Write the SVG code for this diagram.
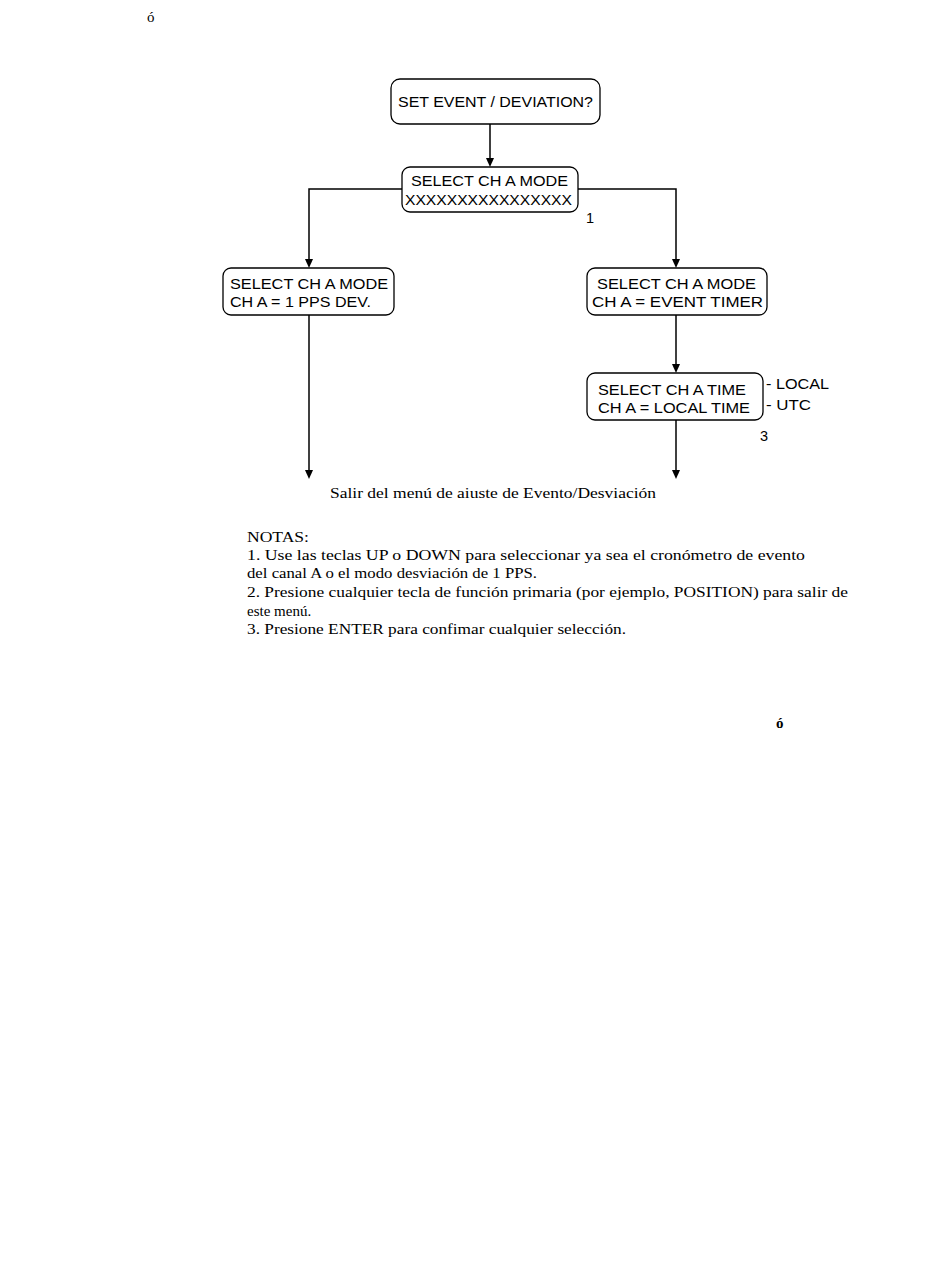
<svg xmlns="http://www.w3.org/2000/svg" width="950" height="1267" viewBox="0 0 950 1267">
<style>
.box{fill:#fff;stroke:#000;stroke-width:1.3}
.bt{font-family:"Liberation Sans",Arial,sans-serif;font-size:14.5px;fill:#000}
.ln{fill:none;stroke:#000;stroke-width:1.5}
.ah{fill:#000}
.sr{font-family:"Liberation Serif","Times New Roman",serif;font-size:15px;fill:#000}
</style>
<rect width="950" height="1267" fill="#fff"/>
<g id="connectors">
<path class="ln" d="M490,124 V160"/>
<path class="ln" d="M402,189 H309 V262"/>
<path class="ln" d="M578,189 H676 V262"/>
<path class="ln" d="M309,315 V472"/>
<path class="ln" d="M676,315 V366"/>
<path class="ln" d="M676,420 V472"/>
<path class="ah" d="M486,158 L494,158 L490,167 Z"/>
<path class="ah" d="M305,259 L313,259 L309,268 Z"/>
<path class="ah" d="M672,259 L680,259 L676,268 Z"/>
<path class="ah" d="M672,364 L680,364 L676,373 Z"/>
<path class="ah" d="M305,470 L313,470 L309,479 Z"/>
<path class="ah" d="M672,470 L680,470 L676,479 Z"/>
</g>
<g id="n_top">
<rect class="box" x="391" y="79" width="209" height="45" rx="9"/>
<text class="bt" x="398" y="107" textLength="195" lengthAdjust="spacingAndGlyphs">SET EVENT / DEVIATION?</text>
</g>
<g id="n_mode">
<rect class="box" x="402" y="167" width="176" height="45" rx="8"/>
<text class="bt" x="411" y="186" textLength="157" lengthAdjust="spacingAndGlyphs">SELECT CH A MODE</text>
<text class="bt" x="405" y="205" textLength="167" lengthAdjust="spacingAndGlyphs">XXXXXXXXXXXXXXXX</text>
</g>
<g id="n_pps">
<rect class="box" x="223" y="268" width="171" height="47" rx="8"/>
<text class="bt" x="230" y="289" textLength="158" lengthAdjust="spacingAndGlyphs">SELECT CH A MODE</text>
<text class="bt" x="230" y="307" textLength="141" lengthAdjust="spacingAndGlyphs">CH A = 1 PPS DEV.</text>
</g>
<g id="n_event">
<rect class="box" x="587" y="268" width="180" height="47" rx="8"/>
<text class="bt" x="597" y="289" textLength="159" lengthAdjust="spacingAndGlyphs">SELECT CH A MODE</text>
<text class="bt" x="592" y="307" textLength="171" lengthAdjust="spacingAndGlyphs">CH A = EVENT TIMER</text>
</g>
<g id="n_time">
<rect class="box" x="587" y="373" width="176" height="47" rx="8"/>
<text class="bt" x="598" y="395" textLength="148" lengthAdjust="spacingAndGlyphs">SELECT CH A TIME</text>
<text class="bt" x="598" y="413" textLength="152" lengthAdjust="spacingAndGlyphs">CH A = LOCAL TIME</text>
</g>
<g id="labels">
<text class="bt" x="586" y="223" font-size="13.5">1</text>
<text class="bt" x="760" y="441" font-size="13.5">3</text>
<text class="bt" x="766" y="389" textLength="63" lengthAdjust="spacingAndGlyphs">- LOCAL</text>
<text class="bt" x="766" y="410" textLength="45" lengthAdjust="spacingAndGlyphs">- UTC</text>
<text class="sr" x="330" y="498" textLength="326" lengthAdjust="spacingAndGlyphs">Salir del menú de aiuste de Evento/Desviación</text>
<text class="sr" x="247" y="542" textLength="62" lengthAdjust="spacingAndGlyphs">NOTAS:</text>
<text class="sr" x="247" y="560" textLength="558" lengthAdjust="spacingAndGlyphs">1.  Use las teclas UP o DOWN para seleccionar ya sea el cronómetro  de evento</text>
<text class="sr" x="247" y="578" textLength="290" lengthAdjust="spacingAndGlyphs">del canal A o el  modo desviación de 1 PPS.</text>
<text class="sr" x="247" y="597" textLength="601" lengthAdjust="spacingAndGlyphs">2.  Presione cualquier tecla de función primaria  (por ejemplo, POSITION) para salir de</text>
<text class="sr" x="247" y="616">este menú.</text>
<text class="sr" x="247" y="634" textLength="379" lengthAdjust="spacingAndGlyphs">3.  Presione ENTER para confimar cualquier selección.</text>
<text class="sr" x="147" y="22" font-size="18">ó</text>
<text class="sr" x="776" y="728" font-size="20" font-weight="bold">ó</text>
</g>
</svg>
